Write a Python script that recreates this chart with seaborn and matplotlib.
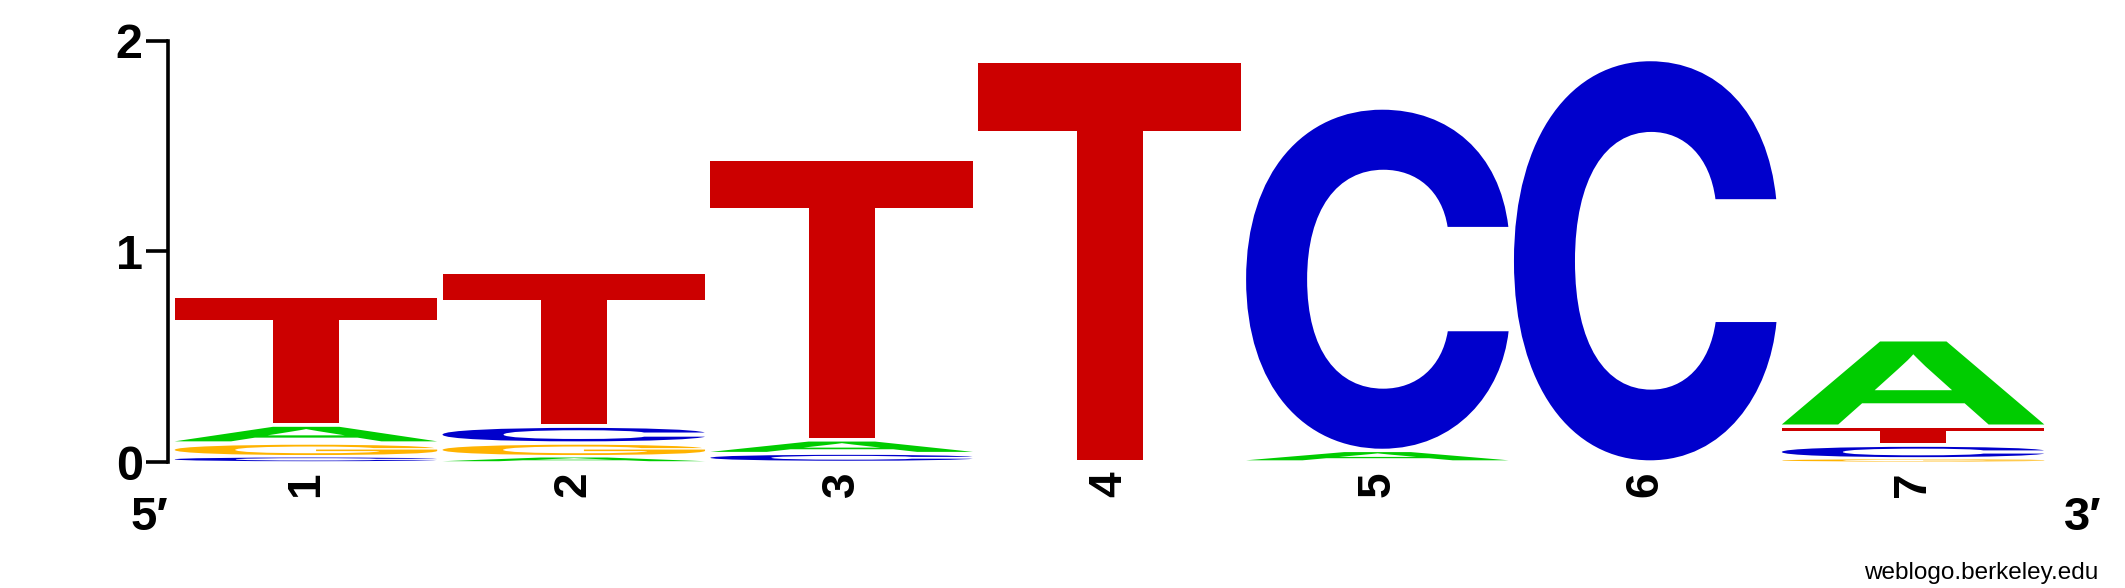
import numpy as np
import pandas as pd
import seaborn as sns
import matplotlib
matplotlib.use("Agg")
import matplotlib.pyplot as plt
from matplotlib.textpath import TextPath
from matplotlib.patches import PathPatch
from matplotlib.font_manager import FontProperties
from matplotlib.transforms import Affine2D

# information content (bits) per base at each position
positions = [1, 2, 3, 4, 5, 6, 7]
bits_A = [0.085, 0.025, 0.065, 0.0, 0.055, 0.0, 0.41]
bits_C = [0.025, 0.08, 0.04, 0.0, 1.625, 1.91, 0.065]
bits_G = [0.065, 0.065, 0.0, 0.0, 0.0, 0.0, 0.015]
bits_T = [0.61, 0.73, 1.33, 1.90, 0.0, 0.0, 0.09]
y_ticks = [0, 1, 2]

base_colors = {"A": "#00CC00", "C": "#0000CC", "G": "#FFB300", "T": "#CC0000"}
# glyph shapes closest to Helvetica-Bold per letter
base_fonts = {"A": "Liberation Sans", "C": "Inter", "G": "Inter", "T": "Inter"}

df = pd.DataFrame({"A": bits_A, "C": bits_C, "G": bits_G, "T": bits_T}, index=positions)

sns.set_style("white")
plt.rcParams["font.family"] = ["Liberation Sans", "DejaVu Sans"]
plt.rcParams["text.color"] = "black"
plt.rcParams["xtick.color"] = "black"
plt.rcParams["ytick.color"] = "black"

W, H = 2125, 588
fig = plt.figure(figsize=(W / 100, H / 100), dpi=100)
# axes placed so that 0..2 bits and the 7 columns line up with the reference
ax = fig.add_axes([172 / W, (H - 462) / H, 1875 / W, 421.4 / H])

glyphs = {b: TextPath((0, 0), b, size=1,
                      prop=FontProperties(family=base_fonts[b], weight="bold"))
          for b in "ACGT"}
letter_w = 0.98

# stack letters, smallest at the bottom, each glyph stretched to its box
for pos, row in df.iterrows():
    y = 0.0
    for base, h in sorted(row.items(), key=lambda kv: kv[1]):
        if h <= 0:
            continue
        path = glyphs[base]
        bb = path.get_extents()
        pad = min(0.008, h * 0.15)
        tr = (Affine2D()
              .translate(-bb.x0, -bb.y0)
              .scale(letter_w / bb.width, (h - 2 * pad) / bb.height)
              .translate(pos - letter_w / 2, y + pad))
        ax.add_patch(PathPatch(tr.transform_path(path), facecolor=base_colors[base],
                               edgecolor="none"))
        y += h

ax.set_xlim(0.5, 7.5)
ax.set_ylim(0, 2)

sns.despine(ax=ax, top=True, right=True, bottom=True)
ax.spines["left"].set_position(("outward", 3))
ax.spines["left"].set_bounds(0, 2)
ax.spines["left"].set_linewidth(2.6)
ax.spines["left"].set_color("black")

ax.set_yticks(y_ticks)
ax.set_yticklabels([str(t) for t in y_ticks], fontsize=35, fontweight="bold")
ax.tick_params(axis="y", length=16, width=2.6, pad=2, left=True)

ax.set_xticks(positions)
ax.set_xticklabels([str(p) for p in positions], rotation=90, fontsize=33,
                   fontweight="bold")
ax.tick_params(axis="x", length=0, pad=7)

fig.text(149 / W, 1 - 518 / H, "5\u2032", ha="center", va="center",
         fontsize=34, fontweight="bold")
fig.text(2083 / W, 1 - 518 / H, "3\u2032", ha="center", va="center",
         fontsize=34, fontweight="bold")
fig.text(2098 / W, 1 - 579 / H, "weblogo.berkeley.edu", ha="right",
         va="baseline", fontsize=17.5)

fig.savefig("out.png", dpi=100)
